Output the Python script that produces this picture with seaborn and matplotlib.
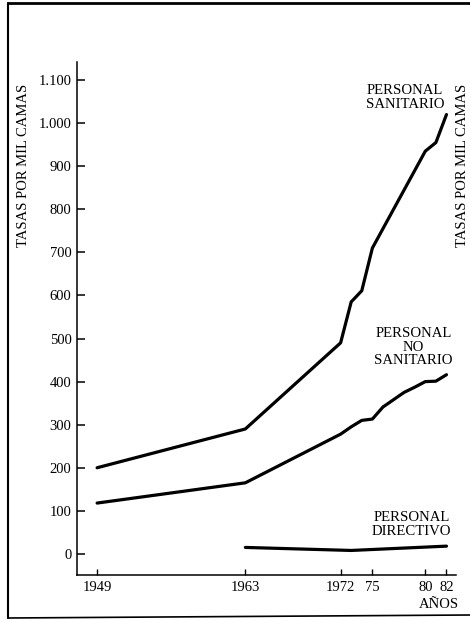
import matplotlib
matplotlib.use("Agg")
import matplotlib.pyplot as plt
import seaborn as sns
import pandas as pd
from matplotlib.lines import Line2D

# ---- data ----
years_sanitario = [1949, 1963, 1972, 1973, 1974, 1975, 1980, 1981, 1982]
vals_sanitario = [200, 290, 490, 585, 611, 710, 935, 955, 1020]

years_nosanitario = [1949, 1963, 1972, 1973, 1974, 1975, 1976, 1978, 1979, 1980, 1981, 1982]
vals_nosanitario = [118, 165, 278, 295, 310, 313, 341, 375, 387, 400, 401, 416]

years_directivo = [1963, 1973, 1982]
vals_directivo = [15, 8, 18]

x_ticks = [1949, 1963, 1972, 1975, 1980, 1982]
x_ticklabels = ["1949", "1963", "1972", "75", "80", "82"]
y_ticks = [0, 100, 200, 300, 400, 500, 600, 700, 800, 900, 1000, 1100]
y_ticklabels = ["0", "100", "200", "300", "400", "500", "600", "700", "800", "900", "1.000", "1.100"]

sns.set_style("ticks")
plt.rcParams["font.family"] = ["Liberation Serif", "DejaVu Serif"]

W, H = 470, 620
fig = plt.figure(figsize=(W / 100, H / 100), dpi=100)
ax = fig.add_axes([77 / W, (H - 575) / H, (456 - 77) / W, (575 - 62) / H])

for xs, ys in [(years_sanitario, vals_sanitario),
               (years_nosanitario, vals_nosanitario),
               (years_directivo, vals_directivo)]:
    df = pd.DataFrame({"year": xs, "value": ys})
    sns.lineplot(data=df, x="year", y="value", ax=ax, color="black",
                 linewidth=2.3, solid_capstyle="round", solid_joinstyle="round")

ax.set_xlim(1947.1, 1982.9)
ax.set_ylim(-49, 1142)
ax.set_xticks(x_ticks)
ax.set_xticklabels(x_ticklabels)
ax.set_yticks(y_ticks)
ax.set_yticklabels(y_ticklabels)
ax.set_xlabel("")
ax.set_ylabel("")
for s in ["top", "right"]:
    ax.spines[s].set_visible(False)
for s in ["left", "bottom"]:
    ax.spines[s].set_linewidth(1.1)
    ax.spines[s].set_color("black")
ax.tick_params(axis="y", direction="in", length=6, width=1.1, labelsize=10.5, pad=4, colors="black")
ax.tick_params(axis="x", direction="in", length=4, width=1.0, labelsize=10.5, pad=4, colors="black")

# series labels
ax.text(1978.1, 1060, "PERSONAL\nSANITARIO", ha="center", va="center",
        fontsize=10.6, linespacing=1.05, color="black")
ax.text(1978.9, 480, "PERSONAL\nNO\nSANITARIO", ha="center", va="center",
        fontsize=10.6, linespacing=1.05, color="black")
ax.text(1978.7, 68, "PERSONAL\nDIRECTIVO", ha="center", va="center",
        fontsize=10.6, linespacing=1.05, color="black")

# axis titles
fig.text(24 / W, 1 - 165 / H, "TASAS POR MIL CAMAS", rotation=90,
         ha="center", va="center", fontsize=10.5, color="black")
fig.text(439 / W, 1 - 605 / H, "AÑOS", ha="center", va="center", fontsize=10.5, color="black")
# neighbouring page label at the right edge
fig.text(469.5 / W, 1 - 165 / H, "TASAS POR MIL CAMAS", rotation=90,
         ha="right", va="center", fontsize=10.5, color="black")

# outer frame of the scanned figure
fig.add_artist(Line2D([8 / W, 8 / W], [1 - 3 / H, 1 - 618 / H], transform=fig.transFigure,
                      color="black", linewidth=1.5))
fig.add_artist(Line2D([8 / W, 1.0], [1 - 3 / H, 1 - 3 / H], transform=fig.transFigure,
                      color="black", linewidth=2.0))
fig.add_artist(Line2D([8 / W, 1.0], [1 - 618 / H, 1 - 615 / H], transform=fig.transFigure,
                      color="black", linewidth=1.2))

fig.savefig("out.png", dpi=100, facecolor="white")
